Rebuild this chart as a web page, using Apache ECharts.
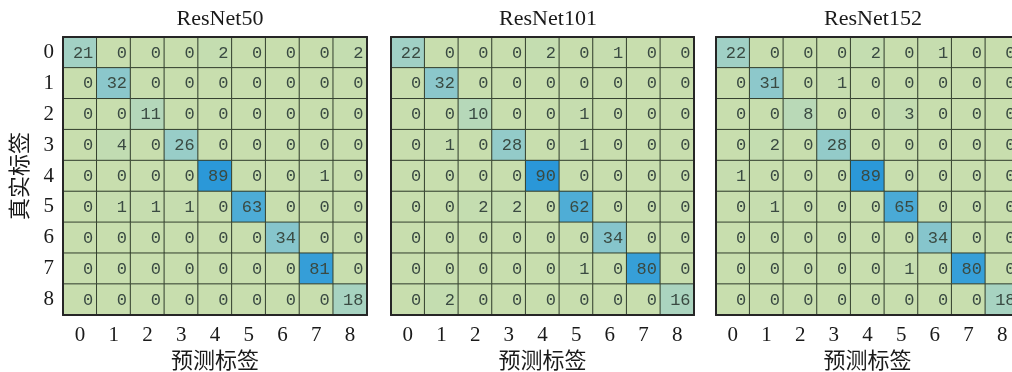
<!DOCTYPE html>
<html>
<head>
<meta charset="utf-8">
<script src="https://cdn.jsdelivr.net/npm/echarts@6/dist/echarts.min.js"></script>
<style>
  html, body { margin: 0; padding: 0; background: #ffffff; }
  #chart { width: 1012px; height: 372px; }
</style>
</head>
<body>
<div id="chart"></div>
<script>
// Class labels shared by both axes of every confusion matrix
const classLabels = ['0', '1', '2', '3', '4', '5', '6', '7', '8'];
const modelNames = ['ResNet50', 'ResNet101', 'ResNet152'];
const xAxisTitle = '预测标签';
const yAxisTitle = '真实标签';

// Confusion matrices: rows = true label, columns = predicted label
const resnet50 = [
  [21, 0, 0, 0, 2, 0, 0, 0, 2],
  [0, 32, 0, 0, 0, 0, 0, 0, 0],
  [0, 0, 11, 0, 0, 0, 0, 0, 0],
  [0, 4, 0, 26, 0, 0, 0, 0, 0],
  [0, 0, 0, 0, 89, 0, 0, 1, 0],
  [0, 1, 1, 1, 0, 63, 0, 0, 0],
  [0, 0, 0, 0, 0, 0, 34, 0, 0],
  [0, 0, 0, 0, 0, 0, 0, 81, 0],
  [0, 0, 0, 0, 0, 0, 0, 0, 18]
];
const resnet101 = [
  [22, 0, 0, 0, 2, 0, 1, 0, 0],
  [0, 32, 0, 0, 0, 0, 0, 0, 0],
  [0, 0, 10, 0, 0, 1, 0, 0, 0],
  [0, 1, 0, 28, 0, 1, 0, 0, 0],
  [0, 0, 0, 0, 90, 0, 0, 0, 0],
  [0, 0, 2, 2, 0, 62, 0, 0, 0],
  [0, 0, 0, 0, 0, 0, 34, 0, 0],
  [0, 0, 0, 0, 0, 1, 0, 80, 0],
  [0, 2, 0, 0, 0, 0, 0, 0, 16]
];
const resnet152 = [
  [22, 0, 0, 0, 2, 0, 1, 0, 0],
  [0, 31, 0, 1, 0, 0, 0, 0, 0],
  [0, 0, 8, 0, 0, 3, 0, 0, 0],
  [0, 2, 0, 28, 0, 0, 0, 0, 0],
  [1, 0, 0, 0, 89, 0, 0, 0, 0],
  [0, 1, 0, 0, 0, 65, 0, 0, 0],
  [0, 0, 0, 0, 0, 0, 34, 0, 0],
  [0, 0, 0, 0, 0, 1, 0, 80, 0],
  [0, 0, 0, 0, 0, 0, 0, 0, 18]
];
const matrices = [resnet50, resnet101, resnet152];

const serifFont = '"Liberation Serif", "Times New Roman", "Noto Sans CJK SC", serif';
const gridBoxes = [
  { left: 63, top: 37, width: 304, height: 278 },
  { left: 391, top: 37, width: 303, height: 278 },
  { left: 716, top: 37, width: 303, height: 278 }
];

function toCells(m) {
  const out = [];
  m.forEach((row, r) => row.forEach((v, c) => out.push([c, r, v])));
  return out;
}

const grids = [], xAxes = [], yAxes = [], series = [], titles = [];
gridBoxes.forEach((g, i) => {
  grids.push(Object.assign({ containLabel: false, outerBoundsMode: 'none' }, g));
  titles.push({
    text: modelNames[i],
    left: g.left + 152,
    top: 3,
    textAlign: 'center',
    textStyle: { fontFamily: serifFont, fontSize: 22, fontWeight: 'normal', color: '#1a1a1a' }
  });
  // bottom axis with labels
  xAxes.push({
    type: 'category', gridIndex: i, data: classLabels, position: 'bottom',
    name: xAxisTitle, nameLocation: 'middle', nameGap: 36,
    nameTextStyle: { fontFamily: serifFont, fontSize: 22, color: '#1a1a1a' },
    axisLine: { show: true, lineStyle: { color: '#262626', width: 2 } },
    axisTick: { show: false },
    axisLabel: { fontFamily: serifFont, fontSize: 21, color: '#1a1a1a', margin: 10 },
    splitLine: { show: false }, z: 5
  });
  // top border
  xAxes.push({
    type: 'category', gridIndex: i, data: classLabels, position: 'top',
    axisLine: { show: true, lineStyle: { color: '#262626', width: 2 } },
    axisTick: { show: false }, axisLabel: { show: false }, z: 5
  });
  yAxes.push({
    type: 'category', gridIndex: i, data: classLabels, inverse: true, position: 'left',
    name: i === 0 ? yAxisTitle : '', nameLocation: 'middle', nameGap: 31, nameRotate: 90,
    nameTextStyle: { fontFamily: serifFont, fontSize: 22, color: '#1a1a1a' },
    axisLine: { show: true, lineStyle: { color: '#262626', width: 2 } },
    axisTick: { show: false },
    axisLabel: { show: i === 0, fontFamily: serifFont, fontSize: 21, color: '#1a1a1a', margin: 9 },
    z: 5
  });
  // right border
  yAxes.push({
    type: 'category', gridIndex: i, data: classLabels, inverse: true, position: 'right',
    axisLine: { show: true, lineStyle: { color: '#262626', width: 2 } },
    axisTick: { show: false }, axisLabel: { show: false }, z: 5
  });
  series.push({
    type: 'heatmap',
    xAxisIndex: i * 2, yAxisIndex: i * 2,
    data: toCells(matrices[i]),
    itemStyle: { borderColor: '#34402f', borderWidth: 1 },
    label: {
      show: true,
      position: ['88%', '52%'],
      align: 'right', verticalAlign: 'middle',
      fontFamily: '"Liberation Mono", "DejaVu Sans Mono", monospace',
      fontSize: 17,
      color: '#3a4a42'
    },
    emphasis: { disabled: true }
  });
});

const chart = echarts.init(document.getElementById('chart'), null, { renderer: 'canvas' });
chart.setOption({
  animation: false,
  backgroundColor: '#ffffff',
  title: titles,
  grid: grids,
  xAxis: xAxes,
  yAxis: yAxes,
  visualMap: {
    show: false, type: 'continuous', min: 0, max: 90,
    seriesIndex: [0, 1, 2],
    inRange: { color: ['#c8deae', '#9fd0c6', '#6fbbd2', '#45a8d7', '#2a97d8'] }
  },
  series: series
});
</script>
</body>
</html>
